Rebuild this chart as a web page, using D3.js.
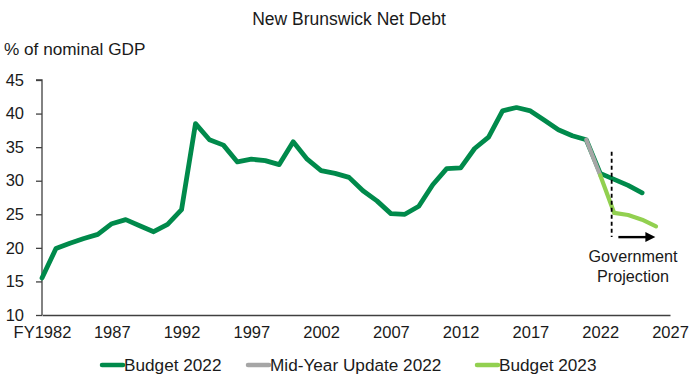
<!DOCTYPE html>
<html>
<head>
<meta charset="utf-8">
<script src="https://cdn.jsdelivr.net/npm/d3@7"></script>
<style>
  html, body { margin: 0; padding: 0; background: #fff; }
  svg text { font-family: "Liberation Sans", Arial, sans-serif; fill: #1a1a1a; }
</style>
</head>
<body>
<div id="chart"></div>
<script>
/* ── New Brunswick Net Debt — % of nominal GDP ─────────────── */

const years2022 = [1982, 1983, 1984, 1985, 1986, 1987, 1988, 1989, 1990, 1991,
                   1992, 1993, 1994, 1995, 1996, 1997, 1998, 1999, 2000, 2001,
                   2002, 2003, 2004, 2005, 2006, 2007, 2008, 2009, 2010, 2011,
                   2012, 2013, 2014, 2015, 2016, 2017, 2018, 2019, 2020, 2021,
                   2022, 2023, 2024, 2025];
const budget2022 = [15.5, 19.9, 20.7, 21.4, 22.0, 23.6, 24.2, 23.3, 22.4, 23.5,
                    25.7, 38.5, 36.1, 35.3, 32.8, 33.2, 33.0, 32.4, 35.8, 33.2,
                    31.5, 31.1, 30.5, 28.5, 27.0, 25.1, 25.0, 26.2, 29.4, 31.8,
                    31.9, 34.8, 36.5, 40.4, 40.9, 40.4, 39.0, 37.6, 36.7, 36.1,
                    31.1, 30.2, 29.3, 28.2];

const yearsMidYear = [2021, 2022];
const midYear2022  = [36.1, 30.8];

const years2023  = [2022, 2023, 2024, 2025, 2026];
const budget2023 = [30.8, 25.2, 24.9, 24.2, 23.2];

const xTicks     = [1982, 1987, 1992, 1997, 2002, 2007, 2012, 2017, 2022, 2027];
const xTickNames = ['FY1982', '1987', '1992', '1997', '2002', '2007', '2012', '2017', '2022', '2027'];
const yTicks     = [10, 15, 20, 25, 30, 35, 40, 45];

const seriesNames  = ['Budget 2022', 'Mid-Year Update 2022', 'Budget 2023'];
const seriesColors = ['#008a4b', '#a6a6a6', '#92d050'];

// ── layout ───────────────────────────────────────────────────
const W = 691, H = 375;
const ML = 42, MR = 21, MT = 80, MB = 60;

const svg = d3.select('#chart').append('svg')
  .attr('width', W).attr('height', H);

const x = d3.scaleLinear().domain([1982, 2027]).range([ML, W - MR]);
const y = d3.scaleLinear().domain([10, 45]).range([H - MB, MT]);

// ── titles ───────────────────────────────────────────────────
svg.append('text')
  .attr('x', 349).attr('y', 25)
  .attr('text-anchor', 'middle').attr('font-size', 17.5)
  .text('New Brunswick Net Debt');

svg.append('text')
  .attr('x', 4).attr('y', 55)
  .attr('font-size', 17.2)
  .text('% of nominal GDP');

// ── axes ─────────────────────────────────────────────────────
const yAxisG = svg.append('g')
  .attr('transform', `translate(${ML},0)`)
  .call(d3.axisLeft(y).tickValues(yTicks).tickSize(6).tickPadding(12));

const xAxisG = svg.append('g')
  .attr('transform', `translate(0,${y(10)})`)
  .call(d3.axisBottom(x).tickValues(xTicks).tickSize(0).tickPadding(11)
    .tickFormat((d, i) => xTickNames[i]));

[yAxisG, xAxisG].forEach(g => {
  g.select('.domain').attr('stroke', '#404040').attr('stroke-width', 1.3);
  g.selectAll('.tick line').attr('stroke', '#404040').attr('stroke-width', 1.3);
  g.selectAll('.tick text')
    .attr('font-family', '"Liberation Sans", Arial, sans-serif')
    .attr('font-size', 16.5).attr('fill', '#1a1a1a');
});
yAxisG.select('.domain').attr('d', `M-6,${y(45)}H0V${y(10)}`);

// ── lines ────────────────────────────────────────────────────
const line = d3.line().x(d => x(d[0])).y(d => y(d[1]));

const series = [
  d3.zip(years2022, budget2022),
  d3.zip(yearsMidYear, midYear2022),
  d3.zip(years2023, budget2023),
];

series.forEach((pts, i) => {
  svg.append('path')
    .datum(pts)
    .attr('d', line)
    .attr('fill', 'none')
    .attr('stroke', seriesColors[i])
    .attr('stroke-width', i === 0 ? 4.8 : 4.2)
    .attr('stroke-linejoin', 'round')
    .attr('stroke-linecap', 'round');
});

// ── projection marker ────────────────────────────────────────
const projStart = 2022.82;
svg.append('line')
  .attr('x1', x(projStart)).attr('x2', x(projStart))
  .attr('y1', y(34.3)).attr('y2', y(21.6))
  .attr('stroke', '#000').attr('stroke-width', 1.8)
  .attr('stroke-dasharray', '4,3');

const arrowY = y(21.6);
const ax0 = x(2023.3), ax1 = x(2025.95);
svg.append('line')
  .attr('x1', ax0).attr('x2', ax1 - 8)
  .attr('y1', arrowY).attr('y2', arrowY)
  .attr('stroke', '#000').attr('stroke-width', 2.4);
svg.append('path')
  .attr('d', `M${ax1},${arrowY}L${ax1 - 10},${arrowY - 5}L${ax1 - 10},${arrowY + 5}Z`)
  .attr('fill', '#000');

svg.append('text')
  .attr('x', 633).attr('y', 262)
  .attr('text-anchor', 'middle').attr('font-size', 16.2)
  .text('Government');
svg.append('text')
  .attr('x', 633).attr('y', 282)
  .attr('text-anchor', 'middle').attr('font-size', 16.2)
  .text('Projection');

// ── legend ───────────────────────────────────────────────────
const legendX = [102, 248, 477];
const legend = svg.append('g');
seriesNames.forEach((name, i) => {
  const g = legend.append('g').attr('transform', `translate(${legendX[i]},365)`);
  g.append('line')
    .attr('x1', 0).attr('x2', 21).attr('y1', 0).attr('y2', 0)
    .attr('stroke', seriesColors[i]).attr('stroke-width', 4.5)
    .attr('stroke-linecap', 'round');
  g.append('text')
    .attr('x', 22).attr('y', 6)
    .attr('font-size', 17.2)
    .text(name);
});
</script>
</body>
</html>
